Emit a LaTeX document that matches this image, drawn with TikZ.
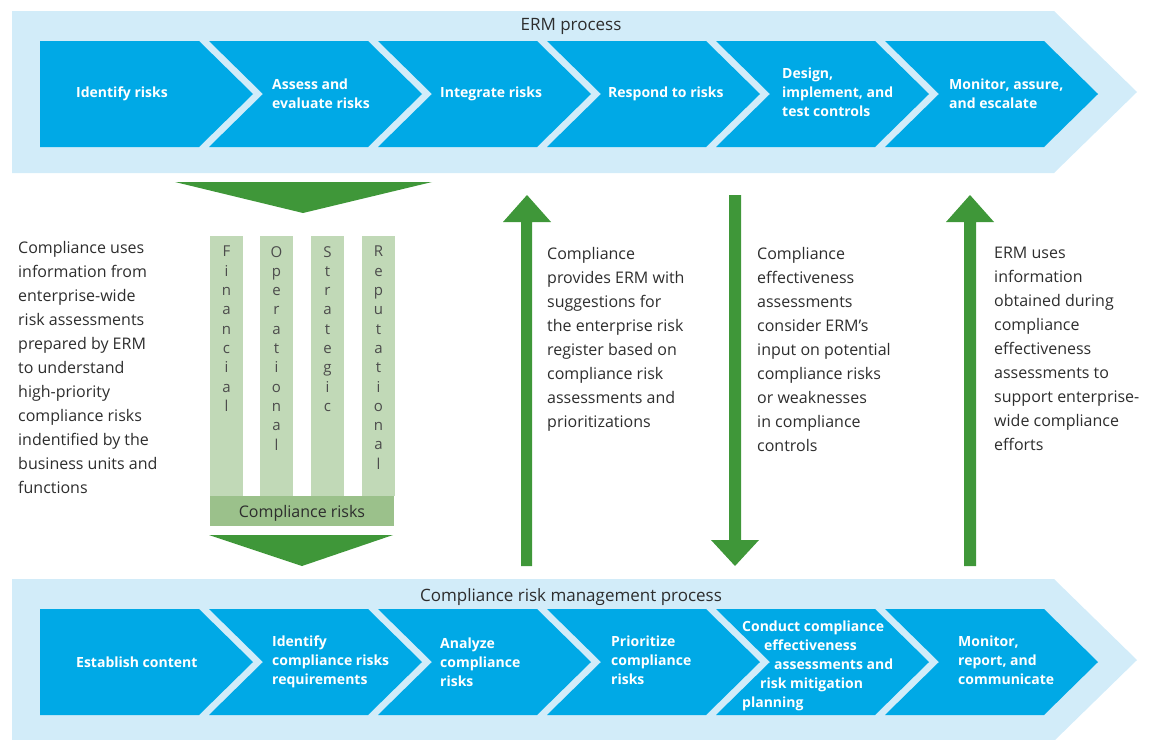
\documentclass[tikz,border=0pt]{standalone}
\usepackage{fontspec}
\setmainfont{Open Sans}
\definecolor{bandblue}{RGB}{210,236,249}
\definecolor{chevblue}{RGB}{0,169,230}
\definecolor{arrgreen}{RGB}{63,151,57}
\definecolor{colgreen}{RGB}{193,217,183}
\definecolor{bargreen}{RGB}{155,193,139}
\definecolor{txtgray}{RGB}{45,45,45}
\tikzset{
  chevtext/.style={anchor=west, inner sep=0pt, align=left, text=white,
    font=\bfseries\fontsize{14}{19}\selectfont},
  bodytext/.style={anchor=north west, inner sep=0pt, align=left, text=txtgray,
    font=\fontsize{16}{24}\selectfont},
  titletext/.style={inner sep=0pt, text=txtgray, font=\fontsize{17}{20}\selectfont},
  lettertext/.style={anchor=north, inner sep=0pt, align=center, text=txtgray!85,
    font=\fontsize{15}{19.3}\selectfont},
  colbox/.style={fill=colgreen},
  greenshape/.style={fill=arrgreen}
}
\begin{document}
\begin{tikzpicture}[x=1pt,y=-1pt]
\useasboundingbox (0,0) rectangle (1154,739);
% bands
\fill[bandblue] (12,11) -- (1054,11) -- (1137,92) -- (1054,173) -- (12,173) -- cycle;
\fill[bandblue] (12,579) -- (1054,579) -- (1137,660) -- (1054,741) -- (12,741) -- cycle;
% chevrons
\foreach \i in {0,...,5}{
  \pgfmathsetmacro{\L}{40+169*\i}
  \pgfmathsetmacro{\N}{\i==0 ? 0 : 54}
  \fill[chevblue] (\L,41) -- ++(159,0) -- ++(54,53) -- ++(-54,53) -- ++(-159,0) -- ++(\N,-53) -- cycle;
  \fill[chevblue] (\L,609) -- ++(159,0) -- ++(54,53) -- ++(-54,53) -- ++(-159,0) -- ++(\N,-53) -- cycle;
}
% titles
\node[titletext] (erm) at (571,26) {ERM process};
\node[titletext] (crm) at (571,597) {Compliance risk management process};
% top chevron texts
\node[chevtext] (t1) at (76,94) {Identify risks};
\node[chevtext] (t2) at (272,94) {Assess and\\evaluate risks};
\node[chevtext] (t3) at (440,94) {Integrate risks};
\node[chevtext] (t4) at (608,94) {Respond to risks};
\node[chevtext] (t5) at (782,92) {Design,\\implement, and\\test controls};
\node[chevtext] (t6) at (949,94) {Monitor, assure,\\and escalate};
% bottom chevron texts
\node[chevtext] (b1) at (76,662) {Establish content};
\node[chevtext] (b2) at (272,662) {Identify\\compliance risks\\requirements};
\node[chevtext] (b3) at (440,662) {Analyze\\compliance\\risks};
\node[chevtext] (b4) at (611,660) {Prioritize\\compliance\\risks};
\node[chevtext] (b5) at (742,666) {Conduct compliance\\\hspace*{22pt}effectiveness\\\hspace*{32pt}assessments and\\\hspace*{18pt}risk mitigation\\planning};
\node[chevtext] (b6) at (958,660) {Monitor,\\report, and\\communicate};
% big green triangles
\fill[greenshape] (175,182) -- (432,182) -- (303,213) -- cycle;
\fill[greenshape] (209,535) -- (393,535) -- (302,566) -- cycle;
% columns
\fill[colbox] (210,236) rectangle (243,496);
\fill[colbox] (260,236) rectangle (293,496);
\fill[colbox] (311,236) rectangle (344,496);
\fill[colbox] (362,236) rectangle (395,496);
\fill[bargreen] (210,496) rectangle (394,526);
\node[inner sep=0pt, text=txtgray, font=\fontsize{16}{20}\selectfont] (cr) at (302,513) {Compliance risks};
\node[lettertext] (c1) at (226.5,246) {F\\i\\n\\a\\n\\c\\i\\a\\l};
\node[lettertext] (c2) at (276.5,246) {O\\p\\e\\r\\a\\t\\i\\o\\n\\a\\l};
\node[lettertext] (c3) at (327.5,246) {S\\t\\r\\a\\t\\e\\g\\i\\c};
\node[lettertext] (c4) at (378.5,246) {R\\e\\p\\u\\t\\a\\t\\i\\o\\n\\a\\l};
% vertical arrows
\fill[greenshape] (521,566) -- (521,222) -- (503,222) -- (527,195) -- (551,222) -- (532,222) -- (532,566) -- cycle;
\fill[greenshape] (729,195) -- (729,540) -- (711,540) -- (735,566) -- (759,540) -- (741,540) -- (741,195) -- cycle;
\fill[greenshape] (964,566) -- (964,222) -- (946,222) -- (970,195) -- (994,222) -- (976,222) -- (976,566) -- cycle;
% body texts
\node[bodytext] (L) at (18,241) {Compliance uses\\information from\\enterprise-wide\\risk assessments\\prepared by ERM\\to understand\\high-priority\\compliance risks\\indentified by the\\business units and\\functions};
\node[bodytext] (M1) at (547,247) {Compliance\\provides ERM with\\suggestions for\\the enterprise risk\\register based on\\compliance risk\\assessments and\\prioritizations};
\node[bodytext] (M2) at (757,247) {Compliance\\effectiveness\\assessments\\consider ERM’s\\input on potential\\compliance risks\\or weaknesses\\in compliance\\controls};
\node[bodytext] (M3) at (994,247) {ERM uses\\information\\obtained during\\compliance\\effectiveness\\assessments to\\support enterprise-\\wide compliance\\efforts};
\end{tikzpicture}
\end{document}
